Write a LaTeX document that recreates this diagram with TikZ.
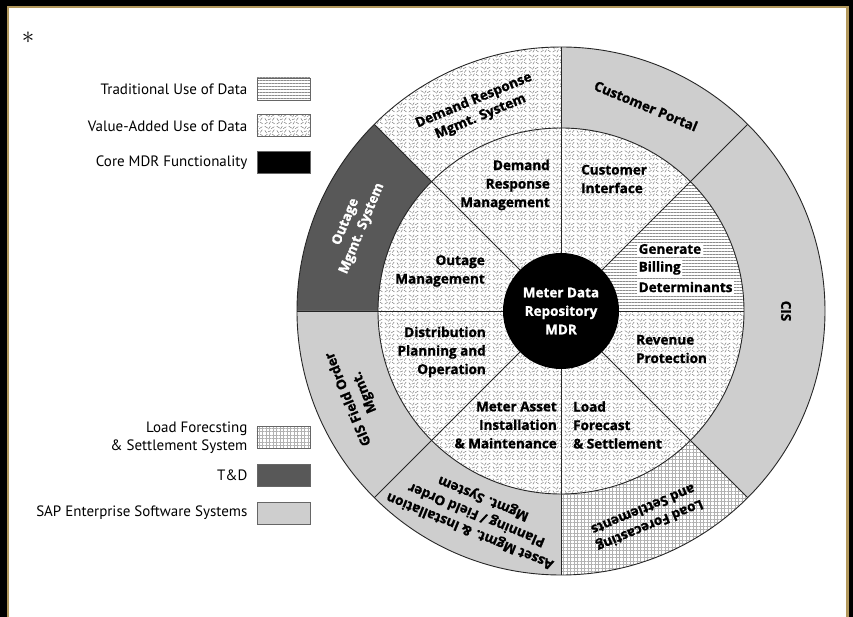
\documentclass[tikz,border=0pt]{standalone}
\usepackage{fontspec}
\setmainfont{PT Sans}
\newfontfamily\lblfont{Open Sans}[BoldFeatures={FakeBold=1.2}]
\usetikzlibrary{positioning, patterns.meta}

\definecolor{sapgray}{RGB}{206,206,206}
\definecolor{tdgray}{RGB}{88,88,88}
\definecolor{framegold}{RGB}{178,152,92}

% short random strokes, the "value-added" texture
\tikzdeclarepattern{
  name=vadashes,
  type=uncolored,
  bounding box={(0pt,0pt) and (12pt,12pt)},
  tile size={(12pt,12pt)},
  code={
    \draw[line width=0.55pt] (0.8pt,1.0pt) -- (3.8pt,3.0pt);
    \draw[line width=0.55pt] (5.2pt,0.7pt) -- (7.0pt,3.7pt);
    \draw[line width=0.55pt] (8.6pt,3.1pt) -- (11.3pt,1.2pt);
    \draw[line width=0.55pt] (1.0pt,6.9pt) -- (2.7pt,4.1pt);
    \draw[line width=0.55pt] (4.1pt,5.3pt) -- (7.4pt,6.5pt);
    \draw[line width=0.55pt] (8.9pt,4.8pt) -- (11.0pt,7.6pt);
    \draw[line width=0.55pt] (0.8pt,11.2pt) -- (3.9pt,9.3pt);
    \draw[line width=0.55pt] (4.8pt,8.2pt) -- (6.7pt,11.2pt);
    \draw[line width=0.55pt] (7.7pt,8.7pt) -- (11.0pt,10.7pt);
  }
}

\begin{document}
\begin{tikzpicture}[x=1pt, y=1pt,
	wheel/.style={line width=0.9pt, draw=black!85},
	vafill/.style={pattern={vadashes}, pattern color=black!50},
	tradfill/.style={pattern={Lines[angle=0, distance=3pt, line width=0.6pt]}, pattern color=black!45},
	lffill/.style={pattern={Hatch[angle=0, distance=3.5pt, line width=0.35pt]}, pattern color=black!30},
	legbox/.style={rectangle, draw=black!60, line width=0.8pt, minimum width=53pt, minimum height=22pt, inner sep=0pt},
	legtext/.style={font=\fontsize{15}{18.5}\selectfont, align=right, inner sep=0pt},
	seg/.style={font=\lblfont\fontsize{13.5}{18.5}\selectfont\bfseries, inner sep=0pt},
	ringlbl/.style={font=\lblfont\fontsize{13.5}{17.5}\selectfont\bfseries, align=center, inner sep=0pt}
	]

	\useasboundingbox (-561,-306) rectangle (292,311);
	\fill[black] (-561,-306) rectangle (292,311);
	\fill[framegold] (-554,-306) rectangle (288,305);
	\fill[white] (-552,-306) rectangle (285,303);

	% inner ring
	\path[vafill] (0,0) circle[radius=183pt];
	\fill[white] (0,0) -- (0:183) arc[start angle=0, end angle=45, radius=183pt] -- cycle;
	\path[tradfill] (0,0) -- (0:183) arc[start angle=0, end angle=45, radius=183pt] -- cycle;

	% outer ring
	\fill[sapgray] (-45:183) -- (-45:264) arc[start angle=-45, end angle=90, radius=264pt] -- (90:183) arc[start angle=90, end angle=-45, radius=183pt] -- cycle;
	\path[vafill] (90:183) -- (90:264) arc[start angle=90, end angle=135, radius=264pt] -- (135:183) arc[start angle=135, end angle=90, radius=183pt] -- cycle;
	\fill[tdgray] (135:183) -- (135:264) arc[start angle=135, end angle=180, radius=264pt] -- (180:183) arc[start angle=180, end angle=135, radius=183pt] -- cycle;
	\fill[sapgray] (180:183) -- (180:264) arc[start angle=180, end angle=270, radius=264pt] -- (270:183) arc[start angle=270, end angle=180, radius=183pt] -- cycle;
	\path[lffill] (270:183) -- (270:264) arc[start angle=270, end angle=315, radius=264pt] -- (315:183) arc[start angle=315, end angle=270, radius=183pt] -- cycle;

	\draw[wheel] (0,0) circle[radius=264pt];
	\draw[wheel] (0,0) circle[radius=183pt];
	\foreach \a in {45,90,...,315}
		\draw[wheel] (0,0) -- (\a:264);
	\draw[wheel] (0,0) -- (0:183);

	\node (mdr) [circle, fill=black, minimum size=116pt, inner sep=0pt, text=white, align=center, font=\lblfont\fontsize{13.5}{18.5}\selectfont\bfseries] at (0,0) {Meter Data\\Repository\\MDR};

	% inner labels
	\node (drm) [seg, align=right, anchor=east] at (-11,126) {Demand\\Response\\Management};
	\node (cint) [seg, align=left, anchor=west] at (20,132) {Customer\\Interface};
	\node (gbd1) [seg, fill=white, inner sep=1.5pt, anchor=west] at (76,62) {Generate};
	\node (gbd2) [seg, fill=white, inner sep=1.5pt, anchor=west] at (76,43) {Billing};
	\node (gbd3) [seg, fill=white, inner sep=1.5pt, anchor=west] at (76,24) {Determinants};
	\node (outm) [seg, align=right, anchor=east] at (-76,40) {Outage\\Management};
	\node (dpo) [seg, align=right, anchor=east] at (-75,-41) {Distribution\\Planning and\\Operation};
	\node (mai) [seg, align=right, anchor=east] at (-4,-114) {Meter Asset\\Installation\\\& Maintenance};
	\node (lfs) [seg, align=left, anchor=west] at (12,-114) {Load\\Forecast\\\& Settlement};
	\node (revp) [seg, align=left, anchor=west] at (75,-38) {Revenue\\Protection};

	% outer labels
	\node (drms) [ringlbl, rotate=22.5] at (112.5:219) {Demand Response\\Mgmt. System};
	\node (cport) [ringlbl, rotate=-22.5] at (67.5:222) {Customer Portal};
	\node (cis) [ringlbl, rotate=-90] at (0:225) {CIS};
	\node (oms) [ringlbl, rotate=67.5, text=white] at (157.5:224) {Outage\\Mgmt. System};
	\node (gis) [ringlbl, rotate=112.5] at (202.5:221) {GIS Field Order\\Mgmt.};
	\node (amip) [ringlbl, rotate=157.5] at (247.5:220) {Asset Mgmt. \& Installation\\Planning / Field Order\\Mgmt. System};
	\node (lfset) [ringlbl, rotate=202.5] at (292.5:224) {Load Forecasting\\and Settlements};

	% legend
	\node (star) at (-533,273) {\fontsize{24}{24}\selectfont$\ast$};

	\node (trad) [legbox, tradfill] at (-277.5,222) {};
	\node (vadd) [legbox, vafill, below=14pt of trad] {};
	\node (core) [legbox, fill=black, below=14pt of vadd] {};
	\node (tradtext) [legtext, left=9pt of trad] {Traditional Use of Data};
	\node (vaddtext) [legtext, left=9pt of vadd] {Value-Added Use of Data};
	\node (coretext) [legtext, left=9pt of core] {Core MDR Functionality};

	\node (lfss) [legbox, lffill] at (-277.5,-126.5) {};
	\node (td) [legbox, fill=tdgray, below=15pt of lfss] {};
	\node (sap) [legbox, fill=sapgray, below=15pt of td] {};
	\node (lfsstext) [legtext, left=9pt of lfss] {Load Forecsting\\\& Settlement System};
	\node (tdtext) [legtext, left=9pt of td] {T\&D};
	\node (saptext) [legtext, left=9pt of sap] {SAP Enterprise Software Systems};

\end{tikzpicture}
\end{document}
